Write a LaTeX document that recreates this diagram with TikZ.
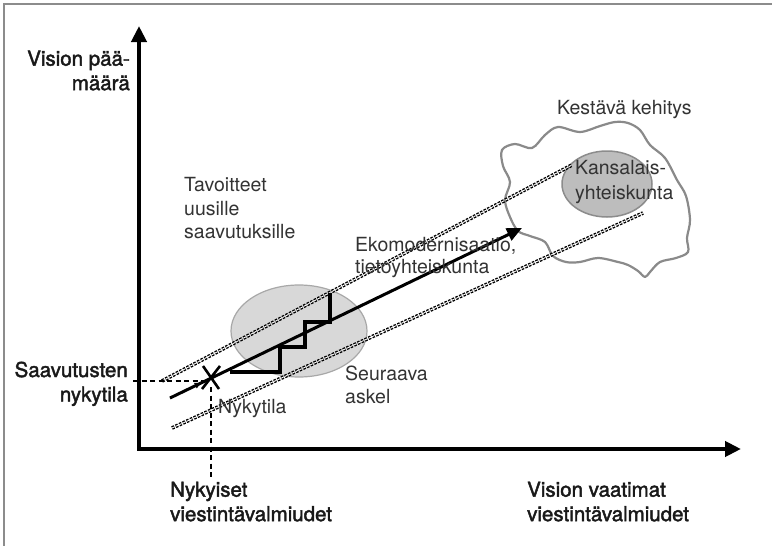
\documentclass[tikz,border=0pt]{standalone}
\usepackage{fontspec}
\setmainfont{TeX Gyre Heros}
\newfontfamily\axisfont[FakeBold=2]{TeX Gyre Heros}
\usetikzlibrary{arrows.meta,calc}

\definecolor{framegray}{HTML}{8C8C8C}
\definecolor{cloudgray}{HTML}{8A8A8A}
\definecolor{softfill}{HTML}{D8D8D8}
\definecolor{softedge}{HTML}{A8A8A8}
\definecolor{corefill}{HTML}{BDBDBD}
\definecolor{coreedge}{HTML}{8C8C8C}
\definecolor{lighttext}{HTML}{333333}

\tikzset{
  axislabel/.style={inner sep=0pt, align=#1, text=black!90,
    font=\axisfont\fontsize{20.5}{24.5}\selectfont},
  innerlabel/.style={inner sep=0pt, align=left, text=lighttext,
    font=\fontsize{19.5}{23.5}\selectfont},
  axisline/.style={line width=4.8pt, line join=miter,
    {Triangle[length=16pt,width=15pt]}-{Triangle[length=16pt,width=15pt]}},
  trendarrow/.style={line width=3pt, -{Triangle[length=15pt,width=13pt]}},
  stairline/.style={line width=3.4pt, line join=miter},
  rail/.style={line width=1.4pt, double=white, double distance=0.9pt,
    dash pattern=on 2.6pt off 1.4pt, draw=black},
  guide/.style={line width=1.6pt, dash pattern=on 5pt off 3.5pt},
  crossmark/.style={line width=2.6pt},
}

\begin{document}
\begin{tikzpicture}[x=1pt,y=-1pt]
\useasboundingbox (0,0) rectangle (772,546);

% frame edges
\draw[framegray, line width=2pt] (3.5,546) -- (3.5,3.5) -- (772,3.5);

% sustainable development cloud
\draw[cloudgray, line width=2.2pt, line join=round]
  plot[smooth cycle, tension=0.55] coordinates {
   (502,150) (515,144) (532,148) (545,135) (558,127) (580,132) (600,126)
   (615,122) (628,123) (640,130) (650,145) (665,158) (677,180) (686,196)
   (690,220) (687,238) (688,252) (676,258) (660,262) (650,272) (645,277)
   (638,271) (628,265) (618,262) (598,258) (580,262) (566,262) (553,256)
   (545,242) (530,236) (518,231) (510,217) (505,200) (510,182) (503,166)};

% ellipses
\fill[softfill, draw=softedge, line width=1.2pt] (299,331) ellipse [x radius=68, y radius=46];
\fill[corefill, draw=coreedge, line width=1.5pt] (607,184) ellipse [x radius=45, y radius=33];

% corridor rails
\coordinate (railAs) at (162,381);
\coordinate (railAe) at (572,165);
\coordinate (railBs) at (172,428);
\coordinate (railBe) at (643,213);
\draw[rail] (railAs) -- (railAe);
\draw[rail] (railBs) -- (railBe);

% axes
\coordinate (origin) at (139,449);
\coordinate (ytip) at (139,26);
\coordinate (xtip) at (741,449);
\draw[axisline] (ytip) -- (origin) -- (xtip);

% development path
\coordinate (pathstart) at (170,398);
\coordinate (now) at (211,378);
\coordinate (pathend) at (522,228);
\draw[trendarrow] (pathstart) -- (pathend);
\draw[line width=1pt, -{Triangle[length=6pt,width=6pt]}] (pathstart) -- ($(pathstart)!0.75!(now)$);

% next steps
\draw[stairline] (230,372) -- (280,372) -- (280,347) -- (305,347)
  -- (305,322) -- (330,322) -- (330,293);

% current state marker
\draw[crossmark] (203,366) -- (219,389);
\draw[crossmark] (220,366) -- (202,389);

% guides to the axes
\coordinate (ymark) at (133,381);
\coordinate (xmark) at (211,480);
\draw[guide] (ymark) -- (205,381);
\draw[guide] (211,387) -- (xmark);

% axis labels
\node[axislabel=right, anchor=north east] (lblY) at (130,50.5) {Vision pää-\\määrä};
\node[axislabel=right, anchor=north east] (lblNow) at (128,361.5) {Saavutusten\\nykytila};
\node[axislabel=left, anchor=north west] (lblX0) at (170,481.5) {Nykyiset\\viestintävalmiudet};
\node[axislabel=left, anchor=north west] (lblX1) at (527,481.5) {Vision vaatimat\\viestintävalmiudet};

% inner labels
\node[innerlabel, anchor=north west] (lblGoals) at (184,177.5) {Tavoitteet\\uusille\\saavutuksille};
\node[innerlabel, anchor=north west, font=\fontsize{19.5}{22}\selectfont] (lblEco) at (355,237.5) {Ekomodernisaatio,\\tietoyhteiskunta};
\node[innerlabel, anchor=north west] (lblStep) at (345,365.5) {Seuraava\\askel};
\node[innerlabel, anchor=north west] (lblState) at (218,399.5) {Nykytila};
\node[innerlabel, anchor=north west] (lblCloud) at (557,100.5) {Kestävä kehitys};
\node[innerlabel, anchor=north west, font=\fontsize{19.5}{25}\selectfont] (lblCivil) at (575,160.5) {Kansalais-\\yhteiskunta};
\end{tikzpicture}
\end{document}
